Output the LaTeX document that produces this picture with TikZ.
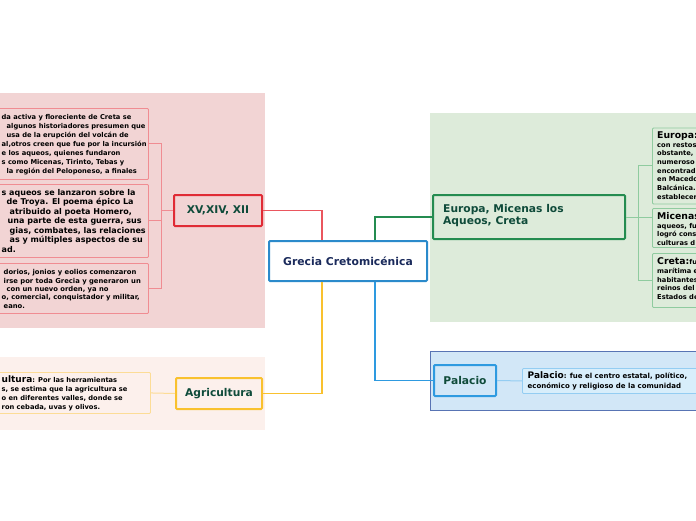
\documentclass[tikz,border=0pt]{standalone}
\usepackage{fontspec}
\setmainfont{DejaVu Sans}
\definecolor{pinkbg}{HTML}{F2D4D4}
\definecolor{redmain}{HTML}{E02B35}
\definecolor{redline}{HTML}{EA565E}
\definecolor{redlight}{HTML}{F08C92}
\definecolor{creambg}{HTML}{FCF0EC}
\definecolor{yelmain}{HTML}{F9C12E}
\definecolor{yellight}{HTML}{FCDC96}
\definecolor{greenbg}{HTML}{DDEBDA}
\definecolor{greenmain}{HTML}{248C50}
\definecolor{greenlight}{HTML}{8FCB9F}
\definecolor{bluebg}{HTML}{D2E7F7}
\definecolor{blueframe}{HTML}{5874B4}
\definecolor{bluemain}{HTML}{2E9AE0}
\definecolor{bluelight}{HTML}{94CDF2}
\definecolor{bluechild}{HTML}{D8EEFB}
\definecolor{centerline}{HTML}{2B8ACB}
\definecolor{navy}{HTML}{1A2A5B}
\definecolor{darkgreen}{HTML}{0F4B3A}
\tikzset{
  topicbox/.style={draw, line width=2pt, rounded corners=1pt, inner sep=0pt,
    font=\fontsize{10.7}{12.6}\selectfont\bfseries, text=darkgreen},
  childbox/.style={draw, line width=0.9pt, rounded corners=1pt, inner sep=0pt, anchor=north west},
  txt/.style={anchor=north west, inner sep=0pt, align=left, text=black},
  mainconn/.style={line width=1.5pt},
  childconn/.style={line width=1pt}
}
\begin{document}
\begin{tikzpicture}[x=1pt,y=-1pt]
\useasboundingbox (0,0) rectangle (696,520);
\clip (0,0) rectangle (696,520);
% background regions
\fill[pinkbg] (0,93) rectangle (265,328);
\fill[creambg] (0,357) rectangle (265,430);
\fill[greenbg] (430,113) rectangle (700,322);
\draw[blueframe, fill=bluebg, line width=1pt] (700,351) -- (430.5,351) -- (430.5,410) -- (700,410);

% central node
\node[draw=centerline, line width=2pt, fill=white, rounded corners=1pt, minimum width=158pt, minimum height=40pt,
  font=\fontsize{10.8}{12}\selectfont\bfseries, text=navy] (ctr) at (348,261) {Grecia Cretomicénica};

% topic nodes
\node[topicbox, draw=redmain, fill=pinkbg, minimum width=88pt, minimum height=31pt] (xv) at (218,210.5) {XV,XIV, XII};
\node[topicbox, draw=yelmain, fill=creambg, minimum width=86pt, minimum height=31pt] (ag) at (219,393.5) {Agricultura};
\node[topicbox, draw=greenmain, fill=greenbg, minimum width=192pt, minimum height=44pt] (eu) at (529,217) {};
\node[txt, font=\fontsize{10.7}{12.6}\selectfont\bfseries, text=darkgreen] (eut) at (443,204) {Europa, Micenas los\\Aqueos, Creta};
\node[topicbox, draw=bluemain, fill=bluebg, minimum width=62pt, minimum height=31pt] (pa) at (465,380.5) {Palacio};

% child boxes
\node[childbox, draw=redlight, fill=pinkbg, minimum width=153pt, minimum height=71pt] (l1) at (-5,108) {};
\node[childbox, draw=redlight, fill=pinkbg, minimum width=153pt, minimum height=73pt] (l2) at (-5,184) {};
\node[childbox, draw=redlight, fill=pinkbg, minimum width=153pt, minimum height=50pt] (l3) at (-5,263) {};
\node[childbox, draw=yellight, fill=creambg, minimum width=155pt, minimum height=41pt] (a1) at (-5,372) {};
\node[childbox, draw=greenlight, fill=greenbg, minimum width=70pt, minimum height=76pt] (e1) at (652,127.5) {};
\node[childbox, draw=greenlight, fill=greenbg, minimum width=70pt, minimum height=39pt] (e2) at (652,208) {};
\node[childbox, draw=greenlight, fill=greenbg, minimum width=70pt, minimum height=54pt] (e3) at (652,253) {};
\node[childbox, draw=bluelight, fill=bluechild, minimum width=200pt, minimum height=25pt] (p1) at (522,368) {};

% child texts
\node[txt, font=\fontsize{6.7}{8.9}\selectfont\bfseries] (l1t) at (1.5,114.5) {da activa y floreciente de Creta se\\\hspace*{5pt}algunos historiadores presumen que\\\hspace*{5pt}usa de la erupción del volcán de\\al,otros creen que fue por la incursión\\e los aqueos, quienes fundaron\\s como Micenas, Tirinto, Tebas y\\\hspace*{5pt}la región del Peloponeso, a finales};
\node[txt, font=\fontsize{8}{9.5}\selectfont\bfseries] (l2t) at (1.5,189) {s aqueos se lanzaron sobre la\\\hspace*{5pt}de Troya. El poema épico La\\\hspace*{8pt}atribuido al poeta Homero,\\\hspace*{6pt}una parte de esta guerra, sus\\\hspace*{8pt}gias, combates, las relaciones\\\hspace*{8pt}as y múltiples aspectos de su\\ad.};
\node[txt, font=\fontsize{6.8}{8.3}\selectfont\bfseries] (l3t) at (1.5,269.5) {\hspace*{2pt}dorios, jonios y eolios comenzaron\\\hspace*{2pt}irse por toda Grecia y generaron un\\\hspace*{5pt}con un nuevo orden, ya no\\o, comercial, conquistador y militar,\\\hspace*{2pt}eano.};
\node[txt, font=\fontsize{6.7}{9}\selectfont\bfseries] (a1t) at (1.5,375.5) {{\fontsize{9}{9}\selectfont ultura}: Por las herramientas\\s, se estima que la agricultura se\\o en diferentes valles, donde se\\ron cebada, uvas y olivos.};
\node[txt, font=\fontsize{6.7}{8.7}\selectfont\bfseries] (e1t) at (657,131.5) {{\fontsize{9.3}{9}\selectfont Europa:}s\\con restos\\obstante,\\numeroso\\encontrad\\en Macedo\\Balcánica.\\establecer};
\node[txt, font=\fontsize{6.7}{8.5}\selectfont\bfseries] (e2t) at (657,212.5) {{\fontsize{9.3}{9}\selectfont Micenas}\\aqueos, fu\\logró cons\\culturas d};
\node[txt, font=\fontsize{6.7}{8.7}\selectfont\bfseries] (e3t) at (657,257.5) {{\fontsize{9.3}{9}\selectfont Creta:}fue\\marítima e\\habitantes\\reinos del\\Estados de};
\node[txt, font=\fontsize{7}{9.5}\selectfont\bfseries] (p1t) at (527.5,371.5) {{\fontsize{9}{9}\selectfont Palacio}: fue el centro estatal, político,\\económico y religioso de la comunidad};

% main connectors
\draw[mainconn, redline] ([xshift=-26pt]ctr.north) |- (xv.east);
\draw[mainconn, yelmain] ([xshift=-26pt]ctr.south) |- (ag.east);
\draw[mainconn, greenmain] ([xshift=27pt]ctr.north) |- (eu.west);
\draw[mainconn, bluemain] ([xshift=27pt]ctr.south) |- (pa.west);

% child connectors
\draw[childconn, redlight] (xv.west) -- ++(-12,0) |- (l1.east);
\draw[childconn, redlight] (xv.west) -- ++(-12,0) |- (l2.east);
\draw[childconn, redlight] (xv.west) -- ++(-12,0) |- (l3.east);
\draw[childconn, yellight] (ag.west) -- (a1.east);
\draw[childconn, greenlight] (eu.east) -- ++(12,0) |- (e1.west);
\draw[childconn, greenlight] (eu.east) -- (eu.east -| e2.west);
\draw[childconn, greenlight] (eu.east) -- ++(12,0) |- (e3.west);
\draw[childconn, bluelight] (pa.east) -- (p1.west);
\end{tikzpicture}
\end{document}
